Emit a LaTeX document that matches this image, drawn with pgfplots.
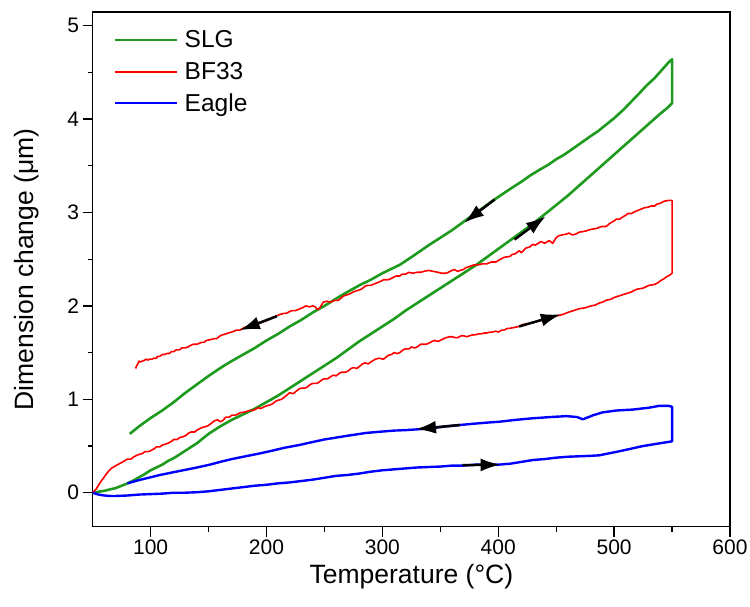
\documentclass[border=0pt]{standalone}
\usepackage{pgfplots}
\pgfplotsset{compat=1.18}
\usepackage{fontspec}
\setmainfont{Liberation Sans}
\usetikzlibrary{arrows.meta}
\definecolor{slg}{RGB}{30,155,30}
\definecolor{bfred}{RGB}{255,0,0}
\definecolor{eblue}{RGB}{0,0,255}
\begin{document}
\begin{tikzpicture}
\begin{axis}[
  scale only axis, width=637.3pt, height=514.7pt,
  xmin=50, xmax=600, ymin=-0.364, ymax=5.147,
  xtick={100,200,...,600}, ytick={0,1,...,5},
  minor x tick num=1, minor y tick num=1,
  xtick pos=lower, ytick pos=left,
  tick align=outside, major tick length=10pt, minor tick length=5pt,
  every tick/.style={line width=1.3pt, black},
  axis line style={line width=1.3pt},
  /pgf/number format/assume math mode=true,
  ticklabel style={font=\fontsize{21}{25}\selectfont},
  label style={font=\fontsize{26.5}{31}\selectfont},
  xlabel={Temperature (°C)},
  ylabel={Dimension change (μm)},
  x label style={at={(axis description cs:0.5,-0.110)}, anchor=base},
  y label style={at={(axis description cs:-0.0932,0.5)}, anchor=base},
  legend style={draw=none, fill=none, at={(axis description cs:0.028,0.972)}, anchor=north west,
    font=\fontsize{24.5}{29}\selectfont, row sep=9pt,
    /tikz/every odd column/.append style={column sep=5pt}},
  legend cell align=left,
  legend image code/.code={\draw[#1, line width=2pt] (0pt,0pt) -- (62pt,0pt);},
]
\coordinate (sw) at (rel axis cs:0,0);
% SLG
\addplot[slg, line width=2.6pt, line join=round] coordinates {
(50,0.00) (55,0.01) (60,0.02) (65,0.035) (70,0.05) (75,0.075) (80,0.10) (85,0.13) (90,0.165) (95,0.20) (100,0.24) (105,0.27) (110,0.30) (115,0.34) (120,0.37) (125,0.41) (130,0.45) (135,0.49) (140,0.53) (145,0.58) (150,0.63) (155,0.67) (160,0.71) (165,0.745) (170,0.78) (175,0.81) (180,0.84) (185,0.87) (190,0.90) (195,0.935) (200,0.97) (210,1.04) (220,1.12) (230,1.20) (240,1.28) (250,1.36) (260,1.44) (270,1.53) (280,1.62) (290,1.70) (300,1.78) (310,1.86) (320,1.95) (330,2.03) (340,2.11) (350,2.19) (360,2.27) (370,2.35) (380,2.43) (390,2.52) (400,2.61) (410,2.70) (420,2.79) (430,2.88) (440,2.98) (450,3.08) (460,3.18) (470,3.29) (480,3.40) (490,3.51) (500,3.62) (510,3.73) (520,3.84) (530,3.95) (540,4.06) (545,4.11) (550,4.17)
(550,4.64) (548,4.62) (545,4.58) (540,4.51) (535,4.44) (528,4.36) (522,4.28) (515,4.19) (508,4.10) (500,4.01) (493,3.94) (486,3.87) (480,3.82) (472,3.75) (464,3.68) (457,3.62) (450,3.57) (443,3.51) (436,3.46) (428,3.40) (420,3.33) (410,3.25) (398,3.15) (390,3.08) (380,2.99) (370,2.90) (360,2.81) (350,2.73) (340,2.65) (326,2.53) (315,2.44) (300,2.35) (290,2.28) (280,2.22) (270,2.15) (263,2.10) (250,2.00) (240,1.93) (230,1.85) (220,1.78) (210,1.70) (200,1.63) (190,1.55) (180,1.48) (170,1.41) (162,1.35) (150,1.25) (140,1.16) (130,1.07) (120,0.97) (110,0.88) (100,0.80) (90,0.71) (82,0.63)
};
\addlegendentry{SLG}
% BF33
\addplot[bfred, line width=1.6pt, line join=round] coordinates {
(50,0) (53,0.04) (56,0.10) (60,0.17) (63,0.22) (66,0.26) (70,0.29) (73,0.31) (76,0.33) (80,0.36) (83,0.36) (85,0.38) (88,0.40) (90,0.41) (93,0.42) (95,0.44) (98,0.44) (100,0.45) (103,0.47) (105,0.49) (108,0.49) (110,0.51) (113,0.52) (115,0.53) (118,0.55) (120,0.57) (123,0.57) (125,0.59) (128,0.60) (130,0.61) (133,0.64) (135,0.65) (138,0.65) (140,0.67) (143,0.69) (145,0.70) (148,0.71) (150,0.72) (153,0.75) (155,0.77) (158,0.78) (160,0.76) (162,0.77) (165,0.81) (168,0.81) (170,0.83) (173,0.83) (175,0.84) (178,0.86) (180,0.86) (183,0.87) (185,0.88) (188,0.88) (190,0.89) (193,0.91) (195,0.90) (198,0.92) (200,0.93) (203,0.94) (205,0.95) (208,0.98) (210,0.99) (213,1.00) (215,1.02) (218,1.05) (220,1.07) (223,1.06) (225,1.08) (228,1.11) (230,1.12) (233,1.12) (235,1.13) (238,1.16) (240,1.17) (243,1.17) (245,1.18) (248,1.21) (250,1.22) (253,1.22) (255,1.24) (258,1.26) (260,1.25) (263,1.28) (265,1.29) (268,1.29) (270,1.30) (273,1.33) (275,1.34) (278,1.33) (280,1.35) (283,1.38) (285,1.39) (288,1.38) (290,1.40) (294,1.43) (297,1.44) (301,1.43) (305,1.47) (308,1.48) (310,1.50) (313,1.49) (315,1.50) (318,1.53) (320,1.54) (323,1.54) (325,1.56) (328,1.55) (330,1.56) (333,1.59) (335,1.59) (338,1.59) (340,1.60) (343,1.62) (345,1.63) (348,1.62) (350,1.63) (353,1.65) (355,1.66) (358,1.67) (360,1.67) (363,1.66) (365,1.66) (368,1.68) (370,1.68) (373,1.67) (375,1.68) (378,1.69) (380,1.69) (383,1.70) (385,1.70) (388,1.71) (390,1.71) (393,1.72) (395,1.72) (398,1.73) (400,1.72) (403,1.74) (405,1.74) (408,1.76) (410,1.76) (414,1.77) (418,1.78) (421,1.80) (425,1.81) (430,1.82) (435,1.84) (440,1.85) (445,1.87) (449,1.89) (453,1.90) (456,1.91) (460,1.93) (465,1.95) (470,1.97) (475,1.98) (480,2.00) (484,2.01) (487,2.03) (490,2.04) (493,2.06) (497,2.07) (500,2.09) (505,2.11) (510,2.13) (515,2.15) (518,2.17) (520,2.18) (525,2.19) (530,2.22) (535,2.23) (538,2.25) (540,2.27) (543,2.29) (545,2.31) (548,2.33) (550,2.35)
(550,3.13) (547,3.13) (543,3.12) (540,3.10) (537,3.09) (535,3.07) (532,3.07) (530,3.06) (526,3.05) (522,3.03) (518,3.01) (515,2.99) (512,2.99) (510,2.97) (507,2.95) (505,2.93) (502,2.93) (500,2.91) (497,2.89) (493,2.85) (489,2.85) (485,2.83) (480,2.82) (475,2.80) (470,2.79) (467,2.77) (464,2.76) (461,2.78) (459,2.77) (455,2.76) (452,2.75) (450,2.73) (447,2.67) (444,2.70) (440,2.67) (437,2.69) (432,2.65) (430,2.66) (427,2.63) (424,2.62) (420,2.57) (418,2.59) (415,2.56) (412,2.55) (410,2.53) (405,2.52) (402,2.50) (398,2.47) (394,2.47) (390,2.45) (386,2.45) (383,2.44) (379,2.44) (375,2.42) (372,2.41) (370,2.39) (367,2.38) (365,2.37) (362,2.39) (360,2.38) (357,2.36) (355,2.35) (351,2.35) (348,2.36) (344,2.37) (340,2.38) (336,2.37) (333,2.36) (330,2.36) (326,2.35) (323,2.36) (320,2.34) (317,2.34) (315,2.32) (312,2.32) (310,2.31) (307,2.29) (305,2.28) (301,2.28) (298,2.26) (294,2.24) (290,2.22) (287,2.22) (285,2.21) (282,2.18) (280,2.17) (277,2.16) (275,2.15) (272,2.13) (270,2.12) (267,2.11) (265,2.09) (262,2.06) (259,2.06) (255,2.04) (252,2.05) (249,2.04) (246,1.98) (244,1.96) (242,1.99) (240,2.00) (237,1.99) (234,2.00) (231,1.98) (229,1.97) (225,1.95) (222,1.95) (220,1.94) (217,1.92) (215,1.92) (212,1.91) (210,1.90) (206,1.88) (203,1.86) (200,1.84) (197,1.83) (195,1.82) (192,1.82) (190,1.81) (187,1.79) (185,1.78) (181,1.77) (177,1.74) (174,1.74) (170,1.72) (167,1.71) (165,1.70) (162,1.69) (160,1.68) (157,1.65) (155,1.65) (152,1.64) (148,1.63) (146,1.61) (144,1.61) (142,1.60) (140,1.59) (137,1.59) (135,1.58) (132,1.56) (130,1.55) (127,1.55) (125,1.53) (122,1.53) (120,1.51) (118,1.51) (116,1.49) (114,1.49) (112,1.48) (110,1.48) (108,1.46) (106,1.46) (105,1.44) (103,1.44) (101,1.43) (99,1.43) (98,1.42) (96,1.43) (95,1.42) (93,1.41) (91,1.40) (90,1.41) (89,1.38) (88,1.36) (87,1.33)
};
\addlegendentry{BF33}
% Eagle
\addplot[eblue, line width=2.4pt, line join=round] coordinates {
(50,0) (55,-0.02) (60,-0.03) (65,-0.035) (70,-0.035) (80,-0.03) (90,-0.02) (100,-0.015) (110,-0.01) (120,0.0) (130,0.0) (140,0.005) (150,0.015) (160,0.03) (170,0.045) (180,0.06) (190,0.075) (200,0.085) (210,0.10) (220,0.11) (230,0.125) (240,0.14) (250,0.16) (260,0.18) (270,0.19) (280,0.205) (290,0.225) (300,0.24) (310,0.25) (320,0.26) (330,0.27) (340,0.275) (350,0.28) (360,0.29) (370,0.29) (380,0.30) (390,0.30) (400,0.30) (410,0.31) (420,0.33) (430,0.35) (440,0.36) (450,0.375) (460,0.385) (470,0.39) (480,0.395) (487,0.40) (495,0.42) (505,0.445) (516,0.475) (525,0.50) (535,0.52) (545,0.54) (550,0.55)
(550,0.92) (547,0.93) (539,0.93) (530,0.91) (516,0.89) (502,0.88) (490,0.86) (482,0.83) (478,0.81) (473,0.786) (468,0.81) (459,0.82) (445,0.81) (430,0.797) (415,0.78) (401,0.76) (390,0.75) (380,0.74) (367,0.725) (355,0.71) (345,0.695) (332,0.68) (320,0.67) (310,0.665) (300,0.655) (286,0.64) (270,0.61) (260,0.59) (250,0.57) (237,0.535) (228,0.51) (215,0.48) (205,0.45) (194,0.42) (180,0.385) (170,0.36) (160,0.33) (151,0.30) (140,0.27) (130,0.245) (120,0.22) (108,0.19) (100,0.165) (90,0.135) (80,0.10)
};
\addlegendentry{Eagle}
% direction arrows
\addplot[forget plot, black, line width=2.5pt, -{Latex[length=20pt,width=13pt]}] coordinates {(397,3.14) (370.5,2.89)};
\addplot[forget plot, black, line width=2.5pt, -{Latex[length=20pt,width=13pt]}] coordinates {(414,2.71) (441,2.96)};
\addplot[forget plot, black, line width=2.5pt, -{Latex[length=20pt,width=13pt]}] coordinates {(209,1.89) (177,1.74)};
\addplot[forget plot, black, line width=2.5pt, -{Latex[length=20pt,width=13pt]}] coordinates {(418,1.78) (454,1.91)};
\addplot[forget plot, black, line width=2.5pt, -{Latex[length=20pt,width=13pt]}] coordinates {(367,0.725) (329,0.68)};
\addplot[forget plot, black, line width=2.5pt, -{Latex[length=20pt,width=13pt]}] coordinates {(369,0.295) (402,0.30)};
\end{axis}
\pgfresetboundingbox
\path (sw) ++(-92.7pt,-80.3pt) rectangle ++(750pt,607pt);
\end{tikzpicture}
\end{document}
